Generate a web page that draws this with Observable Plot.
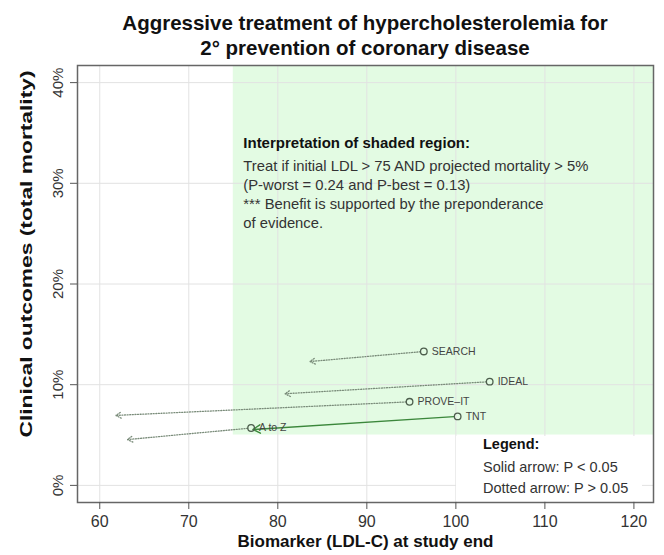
<!DOCTYPE html>
<html>
<head>
<meta charset="utf-8">
<script src="https://cdn.jsdelivr.net/npm/d3@7"></script>
<script src="https://cdn.jsdelivr.net/npm/@observablehq/plot@0.6"></script>
<style>
  body { margin: 0; background: #fff; font-family: "Liberation Sans", Arial, sans-serif; }
  #wrap { position: relative; width: 664px; height: 555px; }
  #title { position: absolute; left: 77px; width: 576px; top: 10px; text-align: center;
           font-weight: bold; font-size: 20.5px; line-height: 25px; color: #111; }
  #legend { position: absolute; left: 456px; top: 436px; width: 186px; height: 65px;
            background: #fff; font-size: 14.5px; line-height: 16px; color: #333; }
  #legend div { position: absolute; left: 27px; white-space: nowrap; }
</style>
</head>
<body>
<div id="wrap">
  <div id="chart"></div>
  <div id="title">Aggressive treatment of hypercholesterolemia for<br>2° prevention of coronary disease</div>
  <div id="legend">
    <div style="top:0px;font-weight:bold;color:#111">Legend:</div>
    <div style="top:23px">Solid arrow: P &lt; 0.05</div>
    <div style="top:44px">Dotted arrow: P &gt; 0.05</div>
  </div>
</div>
<script>
// ---- data ----
const trials      = ["SEARCH", "IDEAL", "PROVE\u2013IT", "TNT", "A to Z"];
const ldlStart    = [96.4, 103.8, 94.8, 100.2, 77.0];
const mortStart   = [13.3, 10.3, 8.3, 6.85, 5.7];
const ldlEnd      = [83.6, 80.8, 61.8, 77.2, 63.1];
const mortEnd     = [12.3, 9.1, 6.95, 5.55, 4.55];
const significant = [false, false, false, true, false];

const shadeLDL = 75;     // treat if initial LDL > 75
const shadeMort = 5;     // and projected mortality > 5%
const xTicks = [60, 70, 80, 90, 100, 110, 120];
const yTicks = [0, 10, 20, 30, 40];
const xDomain = [57.5, 122.2];
const yDomain = [-1.7, 41.7];

const noteHeading = "Interpretation of shaded region:";
const noteBody = [
  "Treat if initial LDL > 75 AND projected mortality > 5%",
  "(P-worst = 0.24 and P-best = 0.13)",
  "*** Benefit is supported by the preponderance",
  "of evidence."
];
const xLabel = "Biomarker (LDL-C) at study end";
const yLabel = "Clinical outcomes (total mortality)";

const rows = trials.map((t, i) => ({
  trial: t, x1: ldlStart[i], y1: mortStart[i], x2: ldlEnd[i], y2: mortEnd[i], sig: significant[i]
}));

const font = '"Liberation Sans", Arial, sans-serif';

const chart = Plot.plot({
  width: 664, height: 555,
  marginTop: 65, marginRight: 11, marginBottom: 53, marginLeft: 77,
  x: { domain: xDomain },
  y: { domain: yDomain },
  style: { fontFamily: font, background: "white", color: "#333" },
  marks: [
    Plot.rect([0], { x1: shadeLDL, x2: xDomain[1], y1: shadeMort, y2: yDomain[1], fill: "#e3fbe3" }),
    Plot.gridX(xTicks, { stroke: "#e2e2e2", strokeOpacity: 1 }),
    Plot.gridY(yTicks, { stroke: "#e2e2e2", strokeOpacity: 1 }),
    Plot.frame({ stroke: "#666", strokeWidth: 1.5 }),
    Plot.axisX(xTicks, { tickSize: 7, tickPadding: 6, fontSize: 16, stroke: "#555", fill: "#333", label: null }),
    Plot.axisY(yTicks, { tickSize: 7, tickPadding: 8, tickRotate: -90, fontSize: 15, tickFormat: d => d + "%", stroke: "#555", fill: "#333", label: null }),
    Plot.arrow(rows.filter(d => !d.sig), {
      x1: "x1", y1: "y1", x2: "x2", y2: "y2", insetStart: 3.5,
      stroke: "#7a8c7a", strokeWidth: 1.3, strokeDasharray: "1,1.6", headLength: 7
    }),
    Plot.arrow(rows.filter(d => d.sig), {
      x1: "x1", y1: "y1", x2: "x2", y2: "y2", insetStart: 3.5,
      stroke: "#3b873b", strokeWidth: 1.4, headLength: 9
    }),
    Plot.dot(rows, { x: "x1", y: "y1", r: 3.3, stroke: "#4d5e4d", fill: "none", strokeWidth: 1.3 }),
    Plot.text(rows, { x: "x1", y: "y1", text: "trial", dx: 8, textAnchor: "start", fontSize: 10.5, fill: "#444" }),
    Plot.text([noteHeading], { x: shadeLDL, frameAnchor: "top", dx: 10, dy: 78, textAnchor: "start", lineAnchor: "middle", fontSize: 15, fontWeight: "bold", fill: "#111" }),
    Plot.text([noteBody.join("\n")], { x: shadeLDL, frameAnchor: "top", dx: 10, dy: 92, lineHeight: 1.28, textAnchor: "start", lineAnchor: "top", fontSize: 14.8, fill: "#333" }),
    Plot.text([xLabel], { frameAnchor: "bottom", dy: 44, fontSize: 17, fontWeight: "bold", fill: "#111" }),
    Plot.text([yLabel], { frameAnchor: "left", dx: -51, dy: -30, rotate: -90, textAnchor: "middle", fontSize: 16, fontWeight: "bold", fill: "#111" })
  ]
});
d3.select(chart).selectAll("text")
  .filter(function () { return this.textContent === yLabel; })
  .attr("textLength", 367).attr("lengthAdjust", "spacingAndGlyphs");
document.getElementById("chart").appendChild(chart);
</script>
</body>
</html>
